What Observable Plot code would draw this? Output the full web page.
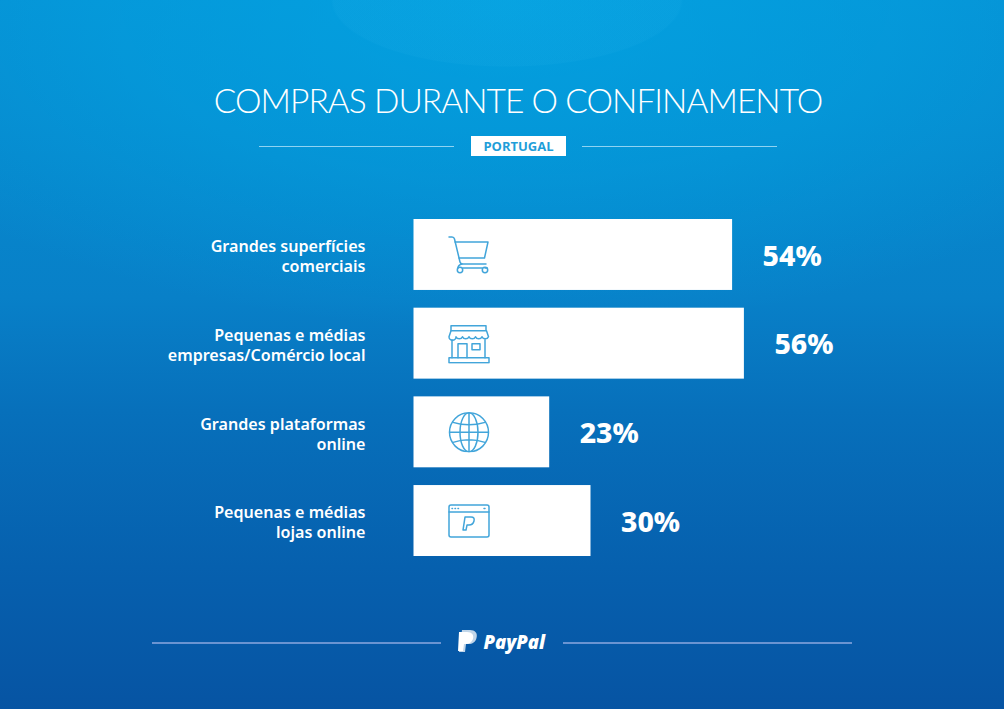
<!DOCTYPE html>
<html lang="pt">
<head>
<meta charset="utf-8">
<title>Compras durante o confinamento</title>
<script src="https://cdn.jsdelivr.net/npm/d3@7"></script>
<script src="https://cdn.jsdelivr.net/npm/@observablehq/plot@0.6"></script>
<style>
html,body{margin:0;padding:0;overflow:hidden}
#page{position:relative;width:1004px;height:709px;overflow:hidden;color:#fff;
 background:
  radial-gradient(ellipse 176px 67px at 507px 0,rgba(60,190,240,.08) 0 98.500%,rgba(60,190,240,0) 100%),
  radial-gradient(ellipse 720px 330px at 505px 0,rgba(0,172,232,.62) 0%,rgba(0,172,232,.35) 55%,rgba(0,172,232,0) 100%),
  linear-gradient(180deg,#078fd3 0%,#0788cd 22%,#0880c8 42%,#0770bb 58%,#0660ae 80%,#0654a3 100%);}
#head{position:relative;height:205px}
#title{position:absolute;left:0;top:80px;width:1036px;margin:0;text-align:center;font:300 33.500px/41px Lato,sans-serif;letter-spacing:-.96px}
.rule{position:absolute;height:1px;background:#8fd3f2}
#chip{position:absolute;left:471px;top:136px;width:95px;height:20px;background:#fff;color:#1f9ed9;text-align:center;font:700 13px/20px "Open Sans",sans-serif}
#foot{position:relative;height:129px}
.frule{position:absolute;top:62px;height:1.500px;background:#6a94d2}
#logo{position:absolute;left:458px;top:50px}
#brand{position:absolute;left:483.500px;top:49px;font:italic 800 18.500px/26px "Open Sans",sans-serif;color:#fff}
svg.plot{display:block}
</style>
</head>
<body>
<div id="page">
 <div id="head">
  <h1 id="title">COMPRAS DURANTE O CONFINAMENTO</h1>
  <div class="rule" style="left:259px;top:146px;width:195px"></div>
  <div id="chip">PORTUGAL</div>
  <div class="rule" style="left:582px;top:146px;width:195px"></div>
 </div>
 <div id="chart"></div>
 <div id="foot">
  <div class="frule" style="left:152px;width:289px"></div>
  <svg id="logo" width="20" height="24" viewBox="0 0 20 24"><path d="M4 0h8c5 0 8 3 6.500 8-1 4-4 6-8 6H8l-1 8H1z" fill="#fff" opacity=".75"/><path d="M1 2h8c5 0 7 3 6 7-1 3-4 5-7 5H6l-1 7H0z" fill="#fff"/></svg>
  <div id="brand">PayPal</div>
  <div class="frule" style="left:563px;width:289px"></div>
 </div>
</div>
<script>
const categories = ["Grandes superfícies\ncomerciais","Pequenas e médias\nempresas/Comércio local","Grandes plataformas\nonline","Pequenas e médias\nlojas online"];
const values = [54,56,23,30];
const valueLabels = ["54%","56%","23%","30%"];
const stroke = "%2342a5da";
const svgWrap = s => `data:image/svg+xml,<svg xmlns='http://www.w3.org/2000/svg' viewBox='0 0 42 40' fill='none' stroke='${stroke}' stroke-width='1.500' stroke-linejoin='round' stroke-linecap='round'>${s}</svg>`;
const icons = [
 svgWrap("<path d='M1 2h3q2 0 2.500 2L12 27q.5 2 2.500 2H38'/><path d='M7 7h33l-3.500 16H11'/><path d='M14 29q-4 1-4 4M34 33h-19M37 33h2'/><circle cx='12' cy='35' r='2.700'/><circle cx='37' cy='35' r='2.700'/>"),
 svgWrap("<rect x='3' y='2' width='35' height='5'/><path d='M3 7 1 13a3.500 3.500 0 0 0 7 0 3.500 3.500 0 0 0 6.500 0 3.500 3.500 0 0 0 6.500 0 3.500 3.500 0 0 0 6.500 0 3.500 3.500 0 0 0 6.500 0 3.500 3.500 0 0 0 6.500 0l-2-6'/><path d='M4 16v18M37 16v18'/><rect x='1' y='34' width='40' height='5'/><path d='M10 34V20h9v14'/><rect x='24' y='20' width='8' height='6'/>"),
 svgWrap("<circle cx='21' cy='20' r='19.500'/><ellipse cx='21' cy='20' rx='9' ry='19.500'/><path d='M21 0v40M2 20h38M5 10q16 5 32 0M5 30q16-5 32 0'/>"),
 svgWrap("<rect x='1' y='4' width='40' height='32' rx='2'/><path d='M1 11h40M4 7.500h.5M7 7.500h.5M10 7.500h.5M36 7.500h1'/><path d='M17 16h6q4 0 3 4t-5 4h-2l-1 5h-3z'/>")
];
const table = categories.map((category,i)=>({category,value:values[i],label:valueLabels[i],icon:icons[i]}));
const plot = Plot.plot({
 width:1004,height:375,
 margin:0,
 style:{background:"transparent",overflow:"visible"},
 x:{domain:[0,100],range:[413.5,1003.5],axis:null},
 y:{domain:categories,range:[14,351],paddingInner:0.2,paddingOuter:0,round:false,label:null},
 marks:[
  Plot.axisY({anchor:"left",tickSize:0,tickPadding:0,label:null,fontSize:16.1,fontWeight:600,fontFamily:"'Noto Sans'",color:"#fff",fill:"#fff",lineHeight:1.24,textAnchor:"end",dx:365,dy:1}),
  Plot.barX(table,{x:"value",y:"category",fill:"#fff"}),
  Plot.image(table,{x:()=>0,y:"category",src:"icon",width:42,height:40,dx:55}),
  Plot.text(table,{x:"value",y:"category",text:"label",textAnchor:"start",dx:30,dy:1.5,fill:"#fff",fontSize:28.4,fontWeight:800,fontFamily:"'Noto Sans',sans-serif"})
 ]
});
document.getElementById("chart").appendChild(plot);
</script>
</body>
</html>
